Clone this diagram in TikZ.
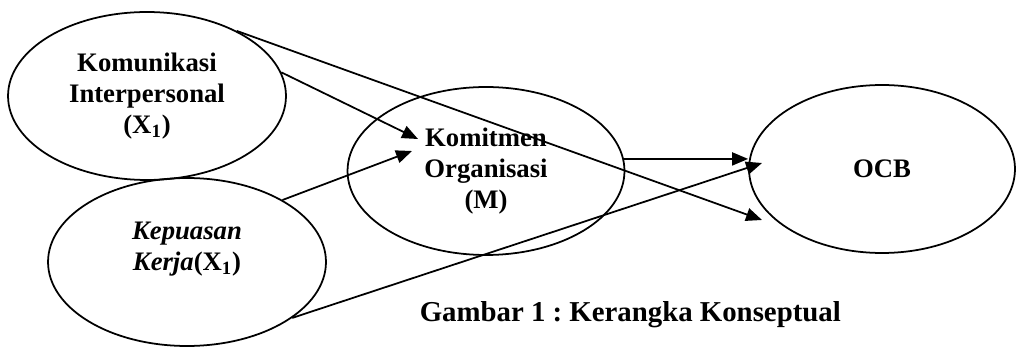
\documentclass[tikz,border=0pt]{standalone}
\usepackage{fontspec}
\setmainfont{Liberation Serif}
\usetikzlibrary{positioning,shapes.geometric,arrows.meta}

\begin{document}
\begin{tikzpicture}[x=0.02cm,y=-0.02cm,
    var/.style={ellipse,draw=black,line width=1pt,inner sep=0pt,
      minimum width=5.56cm,minimum height=3.36cm,align=center,
      font=\bfseries\fontsize{15.2}{17.8}\selectfont},
    arr/.style={line width=1pt,-{Triangle[length=3.2mm,width=2.6mm]}}]
                \useasboundingbox (0,0) rectangle (1016,347);
                % variabel
                \node[var] (kom) at (147,96) {Komunikasi\\Interpersonal\\(X\textsubscript{1})};
                \node[var] (kep) at (187,262) {\textit{Kepuasan}\\\textit{Kerja}(X\textsubscript{1})\\\mbox{}};
                \node[var,minimum width=5.54cm] (komit) at (486,171) {Komitmen\\Organisasi\\(M)};
                \node[var,minimum width=5.32cm] (ocb) at (882,169) {OCB};
                % ujung panah
                \coordinate (t1) at (762,220);
                \coordinate (t2) at (418,139);
                \coordinate (t3) at (412,151);
                \coordinate (t5) at (762,163);
                % panah
                \draw[arr] (kom.36) -- (t1);
                \draw[arr] (kom.10) -- (t2);
                \draw[arr] (kep.33.6) -- (t3);
                \draw[arr] (komit.5) -- (komit.5 -| ocb.west);
                \draw[arr] (kep.-28) -- (t5);
                \node[anchor=base east,font=\bfseries\fontsize{16.4}{19}\selectfont] (cap) at (847,321) {\frenchspacing Gambar 1 : Kerangka Konseptual};
            \end{tikzpicture}
\end{document}
